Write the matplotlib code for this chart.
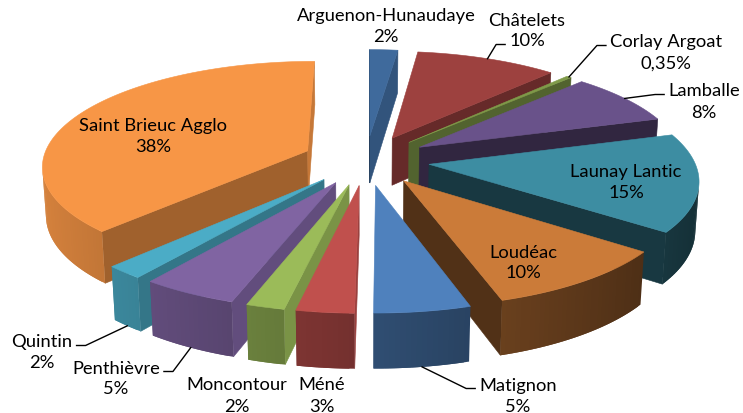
import numpy as np
import matplotlib
matplotlib.use("Agg")
import matplotlib.pyplot as plt
from matplotlib.patches import Polygon
from matplotlib.colors import to_rgb

# data (clockwise from 12 o'clock)
names = ["Arguenon-Hunaudaye", "Châtelets", "Corlay Argoat", "Lamballe", "Launay Lantic",
         "Loudéac", "Matignon", "Méné", "Moncontour", "Penthièvre", "Quintin",
         "Saint Brieuc Agglo"]
shares = [2, 10, 0.35, 8, 15, 10, 5, 3, 2, 5, 2, 38]
pct_labels = ["2%", "10%", "0,35%", "8%", "15%", "10%", "5%", "3%", "2%", "5%", "2%", "38%"]
colors = ["#3F6A9C", "#9D413F", "#7F9A49", "#69528A", "#3D8DA2", "#CB7B39",
          "#4F81BD", "#C0504D", "#9BBB59", "#8064A2", "#4BACC6", "#F79646"]

# layout: label block centres (px) and leader attachment (side, line)
label_pos = [(386, 27), (527, 31), (666, 53), (704, 102), (626, 182), (523, 263),
             (518, 396), (322, 396), (237, 396), (116, 379), (42, 353), (153, 137)]
leaders = [None, ("left", 1), ("left", 0), ("left", 0), None, None,
           ("left", 0), None, None, ("right", 0), ("right", 0), None]

# camera for the 3d look
PHI = np.radians(23)
DIST = 7.0
SCALE = 265
CX, CY = 366, 160
EXPLODE = 0.24
HEIGHT = 0.2
CAM = np.array([0, -DIST * np.cos(PHI), DIST * np.sin(PHI)])


def depth(p):
    return DIST + p[1] * np.cos(PHI) - p[2] * np.sin(PHI)


def project(pts):
    pts = np.atleast_2d(pts)
    X, Y, Z = pts[:, 0], pts[:, 1], pts[:, 2]
    k = DIST / (DIST + Y * np.cos(PHI) - Z * np.sin(PHI))
    u = CX + SCALE * k * X
    v = CY - SCALE * k * (Y * np.sin(PHI) + Z * np.cos(PHI))
    return np.column_stack([u, v])


def shade(c, f):
    return tuple(np.clip(np.array(to_rgb(c)) * f, 0, 1))


def visible(normal, point):
    return np.dot(normal, CAM - point) > 0


fr = np.array(shares) / np.sum(shares)
edges = np.concatenate([[0], np.cumsum(fr)]) * 2 * np.pi

fig = plt.figure(figsize=(7.43, 4.13), dpi=100)
ax = fig.add_axes([0, 0, 1, 1])
ax.set_xlim(0, 743)
ax.set_ylim(413, 0)
ax.axis("off")

slices = []
for i in range(len(shares)):
    a1, a2 = edges[i], edges[i + 1]
    m = (a1 + a2) / 2
    off = EXPLODE * np.array([np.sin(m), np.cos(m)])
    n = max(3, int(np.degrees(a2 - a1) / 1.0) + 2)
    th = np.linspace(a1, a2, n)
    arc = np.column_stack([off[0] + np.sin(th), off[1] + np.cos(th)])
    cen = off + 0.6 * np.array([np.sin(m), np.cos(m)])
    slices.append(dict(i=i, a1=a1, a2=a2, m=m, off=off, th=th, arc=arc,
                       d=depth(np.array([cen[0], cen[1], 0.0]))))

# back to front
for s in sorted(slices, key=lambda s: -s["d"]):
    c = colors[s["i"]]
    off, arc, th = s["off"], s["arc"], s["th"]
    apex_t = np.array([off[0], off[1], 0.0])
    apex_b = np.array([off[0], off[1], -HEIGHT])
    top = [np.array([p[0], p[1], 0.0]) for p in arc]
    bot = [np.array([p[0], p[1], -HEIGHT]) for p in arc]

    # radial faces
    for ang, j, sgn in [(s["a1"], 0, -1), (s["a2"], -1, 1)]:
        nrm = np.array([sgn * np.cos(ang), -sgn * np.sin(ang), 0.0])
        quad = [apex_t, top[j], bot[j], apex_b]
        mid = np.mean(quad, axis=0)
        if visible(nrm, mid):
            tn = np.arctan2(nrm[0], nrm[1])
            f = 0.4 + 0.4 * max(0.0, np.sin(tn)) ** 1.5
            col = shade(c, f)
            ax.add_patch(Polygon(project(np.array(quad)), closed=True,
                                 facecolor=col, edgecolor=col, lw=0.4))

    # outer wall, each strip overlaps the next one so no seams show
    last = len(th) - 1
    for j in range(last):
        tm = (th[j] + th[j + 1]) / 2
        nrm = np.array([np.sin(tm), np.cos(tm), 0.0])
        mid = (top[j] + top[j + 1] + bot[j] + bot[j + 1]) / 4
        if not visible(nrm, mid):
            continue
        k2 = min(j + 2, last)
        nxt_vis = j + 1 < last and visible(
            np.array([np.sin(th[j + 1]), np.cos(th[j + 1]), 0.0]), top[j + 1])
        if not nxt_vis:
            k2 = j + 1
        quad = [top[j], top[j + 1], top[k2], bot[k2], bot[j + 1], bot[j]]
        col = shade(c, 0.6 - 0.27 * np.sin(tm))
        ax.add_patch(Polygon(project(np.array(quad)), closed=True,
                             facecolor=col, edgecolor="none", lw=0))

    # top face
    poly = project(np.array([apex_t] + top))
    ax.add_patch(Polygon(poly, closed=True, facecolor=c, edgecolor=c, lw=0.4))

# labels
font = dict(family="Lato", fontsize=13.2, color="black")
fig.canvas.draw()
renderer = fig.canvas.get_renderer()
inv = ax.transData.inverted()
for s in slices:
    i = s["i"]
    x, y = label_pos[i]
    t1 = ax.text(x, y - 10.5, names[i], ha="center", va="center", **font)
    t2 = ax.text(x, y + 10.5, pct_labels[i], ha="center", va="center", **font)
    if leaders[i] is None:
        continue
    side, line = leaders[i]
    t = (t1, t2)[line]
    bb = t.get_window_extent(renderer)
    (x0, _), (x1, _) = inv.transform([[bb.x0, bb.y0], [bb.x1, bb.y1]])
    ty = t.get_position()[1] + 3
    ex = x0 - 4 if side == "left" else x1 + 4
    elbow = ex - 9 if side == "left" else ex + 9
    m = s["m"]
    z = 0.0 if np.cos(m) > 0 else -HEIGHT
    p = np.array([s["off"][0] + np.sin(m), s["off"][1] + np.cos(m), z])
    sx, sy = project(p)[0]
    ax.plot([sx, elbow, ex], [sy, ty, ty], color="black", lw=1.0)

fig.savefig("out.png", dpi=100)
